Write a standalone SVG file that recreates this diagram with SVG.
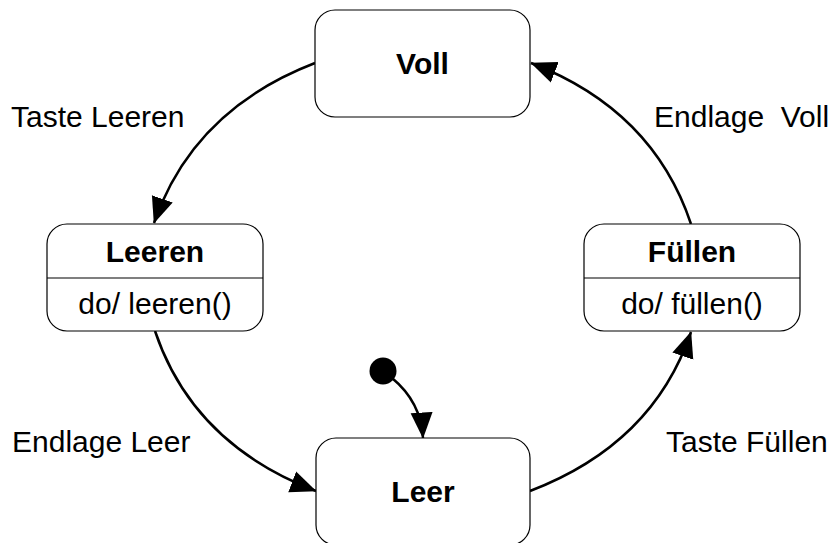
<svg xmlns="http://www.w3.org/2000/svg" width="835" height="543" viewBox="0 0 835 543">
<style>
.box{fill:#fff;stroke:#000;stroke-width:1.2}
.div{stroke:#000;stroke-width:1.2}
.t{font-family:"Liberation Sans",Arial,sans-serif;font-size:30px;fill:#000}
.b{font-weight:bold}
.c{text-anchor:middle}
.edge{fill:none;stroke:#000;stroke-width:2.5}
</style>
<defs>
<marker id="ah" markerUnits="userSpaceOnUse" markerWidth="27" markerHeight="24" refX="25.5" refY="12" orient="auto" viewBox="0 0 27 24">
<path d="M0,1 L26,12 L0,23 z" fill="#000"/>
</marker>
</defs>
<rect width="835" height="543" fill="#fff"/>
<g id="connectors">
<path class="edge" d="M315,63 Q193,110 154,223" marker-end="url(#ah)"/>
<path class="edge" d="M691,224 Q653,110 531,63" marker-end="url(#ah)"/>
<path class="edge" d="M155,331 Q193,444 316,491" marker-end="url(#ah)"/>
<path class="edge" d="M530,491 Q653,444 691,332" marker-end="url(#ah)"/>
<path class="edge" d="M392,378 Q421,402 423,438" marker-end="url(#ah)"/>
<text class="t" x="11" y="127">Taste Leeren</text>
<text class="t" x="654" y="127" xml:space="preserve">Endlage  Voll</text>
<text class="t" x="12" y="452">Endlage Leer</text>
<text class="t" x="666" y="452">Taste Füllen</text>
</g>
<g id="voll">
<rect class="box" x="315" y="10" width="215" height="107" rx="20"/>
<text class="t b c" x="422.5" y="74">Voll</text>
</g>
<g id="leeren">
<rect class="box" x="47" y="224" width="216" height="107" rx="20"/>
<line class="div" x1="47" y1="278" x2="263" y2="278"/>
<text class="t b c" x="155" y="262">Leeren</text>
<text class="t c" x="155" y="314">do/ leeren()</text>
</g>
<g id="fuellen">
<rect class="box" x="584" y="224" width="216" height="107" rx="20"/>
<line class="div" x1="584" y1="278" x2="800" y2="278"/>
<text class="t b c" x="692" y="262">Füllen</text>
<text class="t c" x="692" y="314">do/ füllen()</text>
</g>
<g id="leer">
<rect class="box" x="316" y="438" width="214" height="107" rx="20"/>
<text class="t b c" x="423" y="502">Leer</text>
</g>
<g id="initial">
<circle cx="383" cy="371" r="13.5" fill="#000"/>
</g>
</svg>
